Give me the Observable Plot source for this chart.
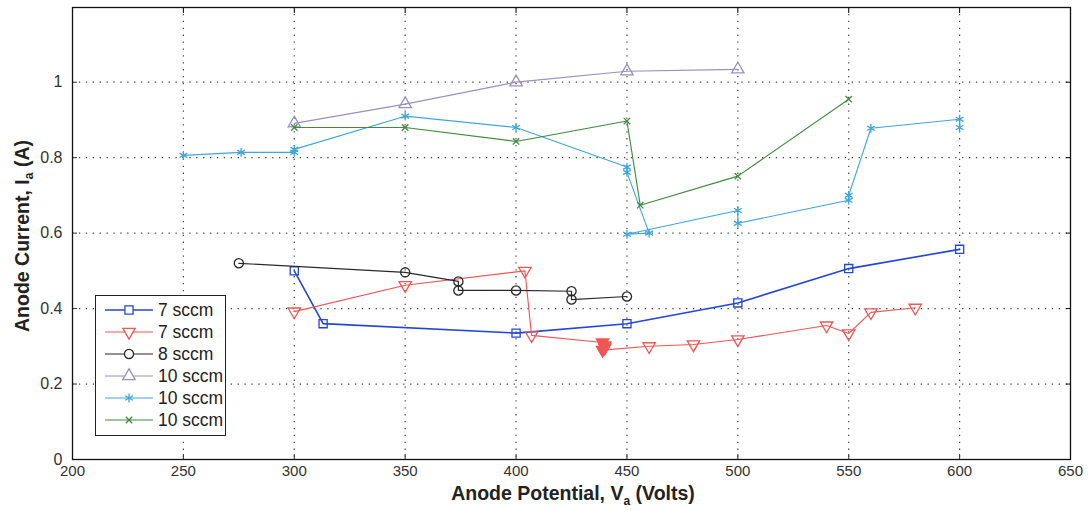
<!DOCTYPE html>
<html>
<head>
<meta charset="utf-8">
<script src="https://cdn.jsdelivr.net/npm/d3@7"></script>
<script src="https://cdn.jsdelivr.net/npm/@observablehq/plot@0.6"></script>
<style>
  body { margin: 0; background: #fff; }
  #wrap { position: relative; width: 1090px; height: 510px; font-family: "Liberation Sans", Arial, sans-serif; }
  .title { position: absolute; font-weight: bold; font-size: 19.5px; color: #222; white-space: nowrap; line-height: 1; }
  .title sub { font-size: 12px; }
  #legend { position: absolute; left: 95px; top: 295px; width: 131px; height: 141px; border: 1px solid #222; background: #fff; box-sizing: border-box; }
  .row { display: flex; align-items: center; height: 22px; }
  .row span { font-size: 17.5px; color: #222; margin-left: 2px; }
</style>
</head>
<body>
<div id="wrap"></div>
<script>
// Anode potential (V) and anode current (A) for each flow-rate run
const blueV  = [300, 313, 400, 450, 500, 550, 600];
const blueI  = [0.50, 0.36, 0.335, 0.36, 0.415, 0.506, 0.557];

const redV   = [300, 350, 404, 407, 439, 440, 440, 439, 460, 480, 500, 540, 550, 560, 580];
const redI   = [0.392, 0.462, 0.50, 0.329, 0.31, 0.302, 0.296, 0.29, 0.30, 0.305, 0.318, 0.355, 0.334, 0.39, 0.402];

const blackV = [275, 350, 374, 374, 400, 425, 425, 450];
const blackI = [0.52, 0.496, 0.472, 0.448, 0.448, 0.446, 0.424, 0.432];

const lavV   = [300, 350, 400, 450, 500];
const lavI   = [0.891, 0.942, 1.0, 1.029, 1.034];

const cyanV  = [250, 276, 300, 300, 350, 400, 450, 450, 460, 450, 500, 500, 550, 550, 560, 600, 600];
const cyanI  = [0.806, 0.814, 0.814, 0.822, 0.91, 0.88, 0.775, 0.761, 0.60, 0.597, 0.66, 0.626, 0.687, 0.70, 0.878, 0.902, 0.88];

const greenV = [300, 350, 400, 450, 456, 500, 550];
const greenI = [0.88, 0.88, 0.843, 0.897, 0.674, 0.751, 0.955];

const xTicks = [200, 250, 300, 350, 400, 450, 500, 550, 600, 650];
const yTicks = [0, 0.2, 0.4, 0.6, 0.8, 1];

// downward-pointing triangle (MATLAB 'v' marker)
const triangleDown = {
  draw(context, size) {
    const s3 = Math.sqrt(3);
    const y = Math.sqrt(size / (s3 * 3));
    context.moveTo(0, y * 2);
    context.lineTo(-s3 * y, -y);
    context.lineTo(s3 * y, -y);
    context.closePath();
  }
};

const series = [
  {name: "7 sccm",  V: blueV,  I: blueI,  color: "#2346d8", symbol: "square",   r: 4.6, width: 1.6},
  {name: "7 sccm",  V: redV,   I: redI,   color: "#f25555", symbol: triangleDown, r: 4.6, width: 1.1},
  {name: "8 sccm",  V: blackV, I: blackI, color: "#2a2a2a", symbol: "circle",   r: 4.6, width: 1.2},
  {name: "10 sccm", V: lavV,   I: lavI,   color: "#9a8fc4", symbol: "triangle", r: 4.6, width: 1.2},
  {name: "10 sccm", V: cyanV,  I: cyanI,  color: "#3fa6dc", symbol: "asterisk", r: 4.2, width: 1.1},
  {name: "10 sccm", V: greenV, I: greenI, color: "#3f8a3f", symbol: "times",    r: 3.0, width: 1.1}
];

const marks = [];
const dotted = {stroke: "#222", strokeOpacity: 0.85, strokeWidth: 1.2, strokeDasharray: "1.3 5.6"};
marks.push(Plot.ruleX(xTicks.slice(1, -1), {...dotted}));
marks.push(Plot.ruleY(yTicks.slice(1), {...dotted}));

for (const s of series) {
  const data = s.V.map((v, i) => ({v, a: s.I[i]}));
  marks.push(Plot.line(data, {x: "v", y: "a", stroke: s.color, strokeWidth: s.width}));
  // the red cluster near 440 V overlaps into solid triangles
  marks.push(Plot.dot(data, {x: "v", y: "a", symbol: () => s.symbol, r: s.r, stroke: s.color, strokeWidth: 1.3,
    fill: s.color === "#f25555" ? (d => (d.v >= 439 && d.v <= 440) ? s.color : "none") : "none"}));
}

marks.push(Plot.axisX(xTicks, {anchor: "bottom", tickSize: -5, tickPadding: 11, label: null, fontSize: 15, color: "#333"}));
marks.push(Plot.axisX(xTicks, {anchor: "top", tickSize: -5, tickFormat: () => "", label: null}));
marks.push(Plot.axisY(yTicks, {anchor: "left", tickSize: -5, tickPadding: 15, label: null, fontSize: 16, color: "#333",
  tickFormat: d => String(d)}));
marks.push(Plot.axisY(yTicks, {anchor: "right", tickSize: -5, tickFormat: () => "", label: null}));
marks.push(Plot.frame({stroke: "#111", strokeWidth: 1.3}));

const chart = Plot.plot({
  width: 1090,
  height: 510,
  marginLeft: 72,
  marginRight: 20,
  marginTop: 7,
  marginBottom: 51,
  style: {fontFamily: "'Liberation Sans Narrow', 'Arial Narrow', 'Liberation Sans', sans-serif", background: "#fff"},
  x: {domain: [200, 650]},
  y: {domain: [0, 1.198]},
  marks
});

const wrap = document.getElementById("wrap");
wrap.appendChild(chart);

// axis titles
const xt = document.createElement("div");
xt.className = "title";
xt.innerHTML = "Anode Potential, V<sub>a</sub> (Volts)";
xt.style.left = "573px"; xt.style.top = "484px"; xt.style.transform = "translateX(-50%)";
wrap.appendChild(xt);

const yt = document.createElement("div");
yt.className = "title";
yt.innerHTML = "Anode Current, I<sub>a</sub> (A)";
yt.style.left = "24px"; yt.style.top = "236px"; yt.style.transform = "translate(-50%, -50%) rotate(-90deg)";
wrap.appendChild(yt);

// legend
const legend = document.createElement("div");
legend.id = "legend";
legend.style.paddingTop = "3px";
const symMap = {square: d3.symbolSquare, circle: d3.symbolCircle, triangle: d3.symbolTriangle, asterisk: d3.symbolAsterisk, times: d3.symbolTimes};
for (const s of series) {
  const row = document.createElement("div");
  row.className = "row";
  const svg = d3.create("svg").attr("width", 60).attr("height", 20);
  svg.append("line").attr("x1", 9).attr("x2", 57).attr("y1", 10).attr("y2", 10)
    .attr("stroke", s.color).attr("stroke-width", s.width);
  const sym = typeof s.symbol === "string" ? symMap[s.symbol] : s.symbol;
  svg.append("path").attr("transform", "translate(33,10)")
    .attr("d", d3.symbol(sym, s.r * s.r * Math.PI)())
    .attr("fill", "#fff").attr("stroke", s.color).attr("stroke-width", 1.3);
  row.appendChild(svg.node());
  const t = document.createElement("span");
  t.textContent = s.name;
  row.appendChild(t);
  legend.appendChild(row);
}
wrap.appendChild(legend);
</script>
</body>
</html>
